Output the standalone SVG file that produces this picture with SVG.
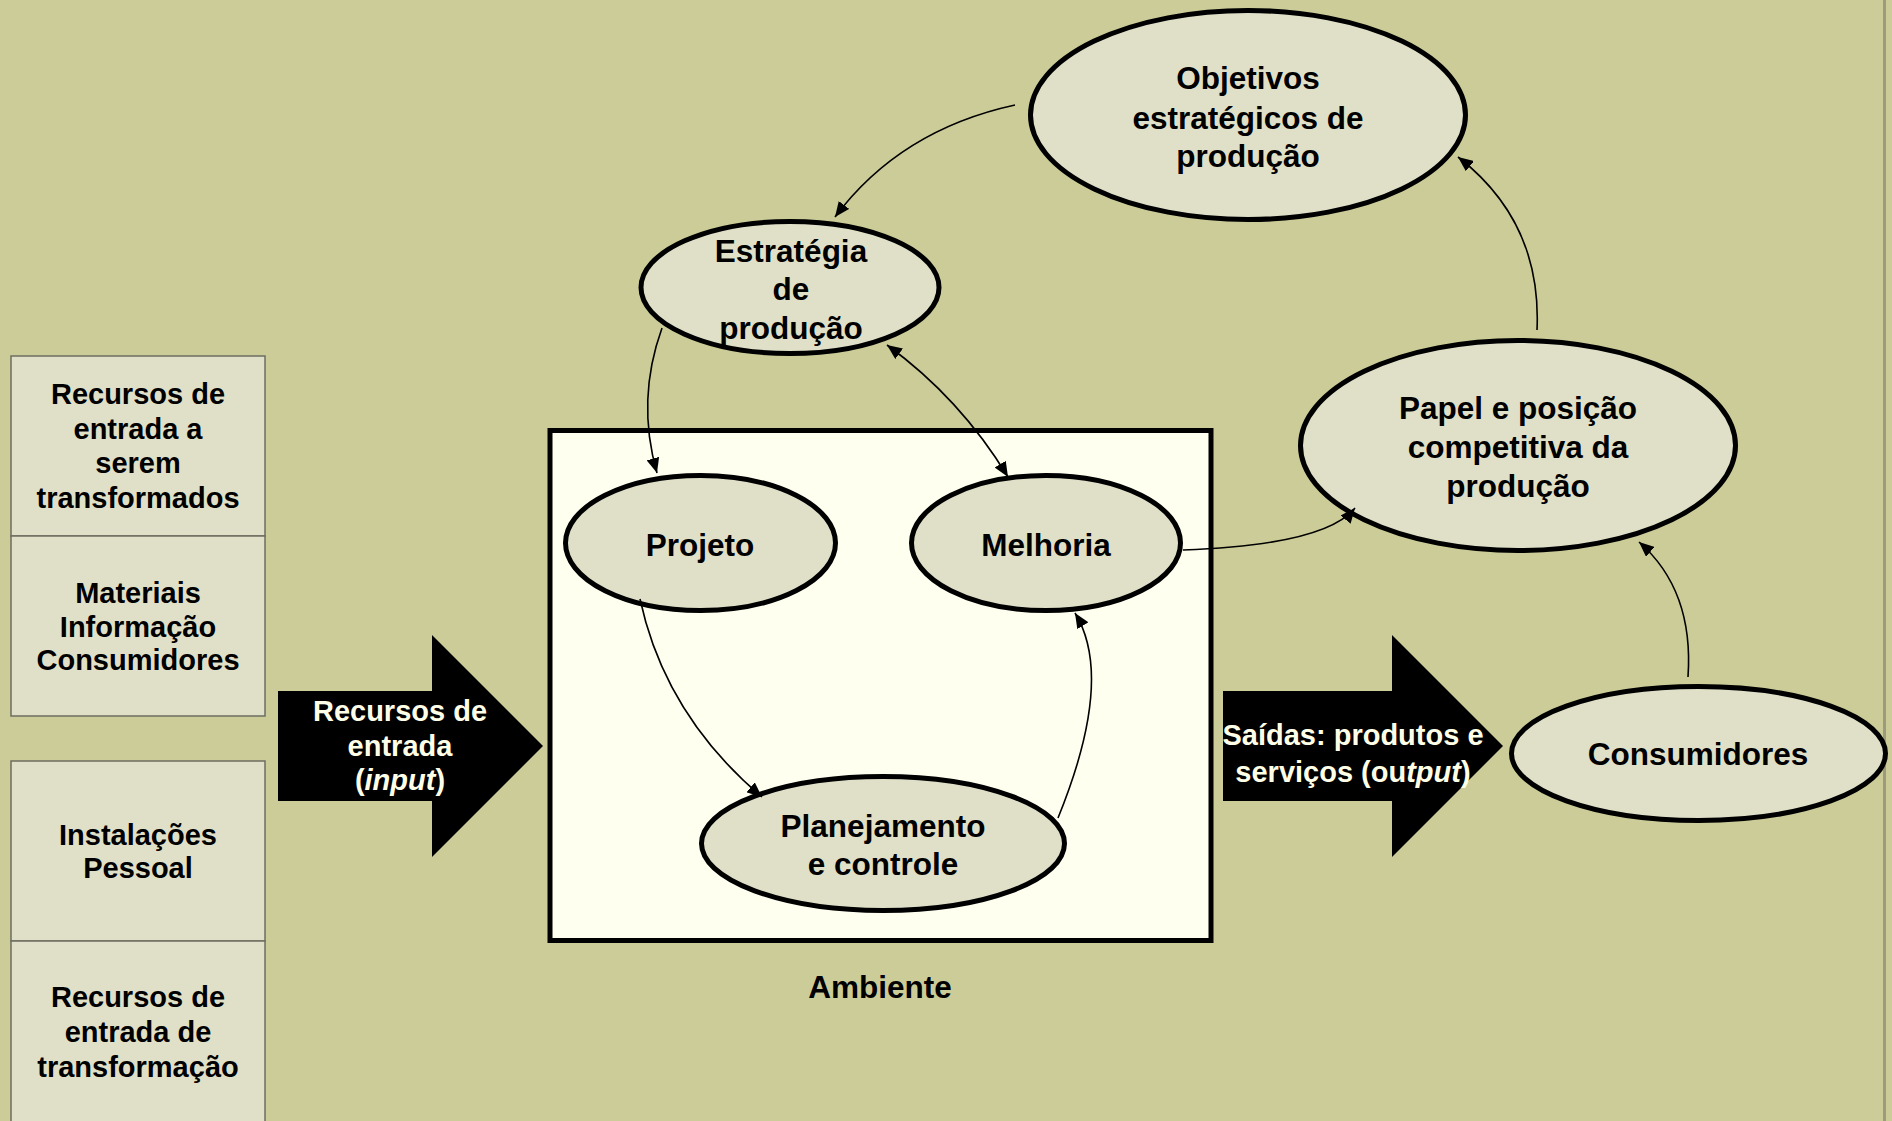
<svg xmlns="http://www.w3.org/2000/svg" width="1892" height="1121" viewBox="0 0 1892 1121">
  <style>
    text { font-family: "Liberation Sans", Arial, sans-serif; font-weight: bold; text-anchor: middle; fill: #000; }
    .side { font-size: 29px; }
    .node { font-size: 31.5px; }
    .arrowtxt { font-size: 29px; fill: #FFFFE8; }
    .cell { fill: #E0E0C8; stroke: #6E6E60; stroke-width: 1.5; }
    .oval { fill: #E0E0C8; stroke: #000; stroke-width: 5; }
    .link { fill: none; stroke: #000; stroke-width: 1.6; }
    .to { marker-end: url(#head); }
  </style>
  <defs>
    <marker id="head" markerUnits="userSpaceOnUse" markerWidth="16" markerHeight="13" refX="15" refY="6.5" orient="auto-start-reverse">
      <path d="M0,0 L15,6.5 L0,13 z" fill="#000"/>
    </marker>
  </defs>

  <!-- page background -->
  <rect x="0" y="0" width="1892" height="1121" fill="#CCCC99"/>
  <line x1="1884.5" y1="0" x2="1884.5" y2="1121" stroke="#9C9C7C" stroke-width="3"/>

  <!-- input resource tables -->
  <g id="recursos-transformados">
    <rect class="cell" x="11" y="356" width="254" height="180"/>
    <text class="side" x="138" y="404">Recursos de</text>
    <text class="side" x="138" y="439">entrada a</text>
    <text class="side" x="138" y="473">serem</text>
    <text class="side" x="138" y="508">transformados</text>
  </g>
  <g id="materiais">
    <rect class="cell" x="11" y="536" width="254" height="180"/>
    <text class="side" x="138" y="603">Materiais</text>
    <text class="side" x="138" y="637">Informação</text>
    <text class="side" x="138" y="670">Consumidores</text>
  </g>
  <g id="instalacoes">
    <rect class="cell" x="11" y="761" width="254" height="180"/>
    <text class="side" x="138" y="845">Instalações</text>
    <text class="side" x="138" y="878">Pessoal</text>
  </g>
  <g id="recursos-transformacao">
    <rect class="cell" x="11" y="941" width="254" height="182"/>
    <text class="side" x="138" y="1007">Recursos de</text>
    <text class="side" x="138" y="1042">entrada de</text>
    <text class="side" x="138" y="1077">transformação</text>
  </g>

  <!-- block arrows -->
  <g id="input-arrow">
    <polygon points="278,691 432,691 432,635 543,746 432,857 432,801 278,801" fill="#000"/>
    <text class="arrowtxt" x="400" y="721">Recursos de</text>
    <text class="arrowtxt" x="400" y="756">entrada</text>
    <text class="arrowtxt" x="400" y="790">(<tspan font-style="italic">input</tspan>)</text>
  </g>
  <g id="output-arrow">
    <polygon points="1223,691 1392,691 1392,635 1503,746 1392,857 1392,801 1223,801" fill="#000"/>
    <text class="arrowtxt" x="1353" y="745">Saídas: produtos e</text>
    <text class="arrowtxt" x="1353" y="782">serviços (ou<tspan font-style="italic">tput</tspan>)</text>
  </g>

  <!-- operation environment -->
  <g id="ambiente">
    <rect x="550" y="430.5" width="661" height="510" fill="#FFFFF0" stroke="#000" stroke-width="5"/>
    <text class="node" x="880" y="998">Ambiente</text>
  </g>

  <!-- ellipse nodes -->
  <g id="objetivos">
    <ellipse class="oval" cx="1248" cy="115" rx="217.5" ry="104.5"/>
    <text class="node" x="1248" y="89">Objetivos</text>
    <text class="node" x="1248" y="128.5">estratégicos de</text>
    <text class="node" x="1248" y="167">produção</text>
  </g>
  <g id="estrategia">
    <ellipse class="oval" cx="790" cy="287.5" rx="149" ry="66"/>
    <text class="node" x="791" y="262">Estratégia</text>
    <text class="node" x="791" y="300">de</text>
    <text class="node" x="791" y="339">produção</text>
  </g>
  <g id="papel">
    <ellipse class="oval" cx="1518" cy="445.5" rx="217.5" ry="105"/>
    <text class="node" x="1518" y="419">Papel e posição</text>
    <text class="node" x="1518" y="458">competitiva da</text>
    <text class="node" x="1518" y="496.5">produção</text>
  </g>
  <g id="projeto">
    <ellipse class="oval" cx="700.5" cy="543" rx="135" ry="67.5"/>
    <text class="node" x="700" y="555.5">Projeto</text>
  </g>
  <g id="melhoria">
    <ellipse class="oval" cx="1046" cy="543" rx="134.5" ry="67.5"/>
    <text class="node" x="1046" y="555.5">Melhoria</text>
  </g>
  <g id="planejamento">
    <ellipse class="oval" cx="883" cy="843.5" rx="181.5" ry="67"/>
    <text class="node" x="883" y="837">Planejamento</text>
    <text class="node" x="883" y="874.5">e controle</text>
  </g>
  <g id="consumidores">
    <ellipse class="oval" cx="1698.5" cy="753.5" rx="187" ry="67"/>
    <text class="node" x="1698" y="765">Consumidores</text>
  </g>

  <!-- connectors -->
  <g id="connectors">
    <path class="link to" d="M1015,105 Q900,130 835,217"/>
    <path class="link to" d="M662,328 Q636,400 657,473"/>
    <path class="link to" d="M887,345 Q960,398 1008,477" marker-start="url(#head)"/>
    <path class="link to" d="M640,599 Q665,715 762,797"/>
    <path class="link to" d="M1058,818 Q1115,678 1075,613"/>
    <path class="link to" d="M1183,550 Q1325,545 1355,508"/>
    <path class="link to" d="M1537,330 Q1542,222 1458,157"/>
    <path class="link to" d="M1688,677 Q1694,590 1639,542"/>
  </g>
</svg>
